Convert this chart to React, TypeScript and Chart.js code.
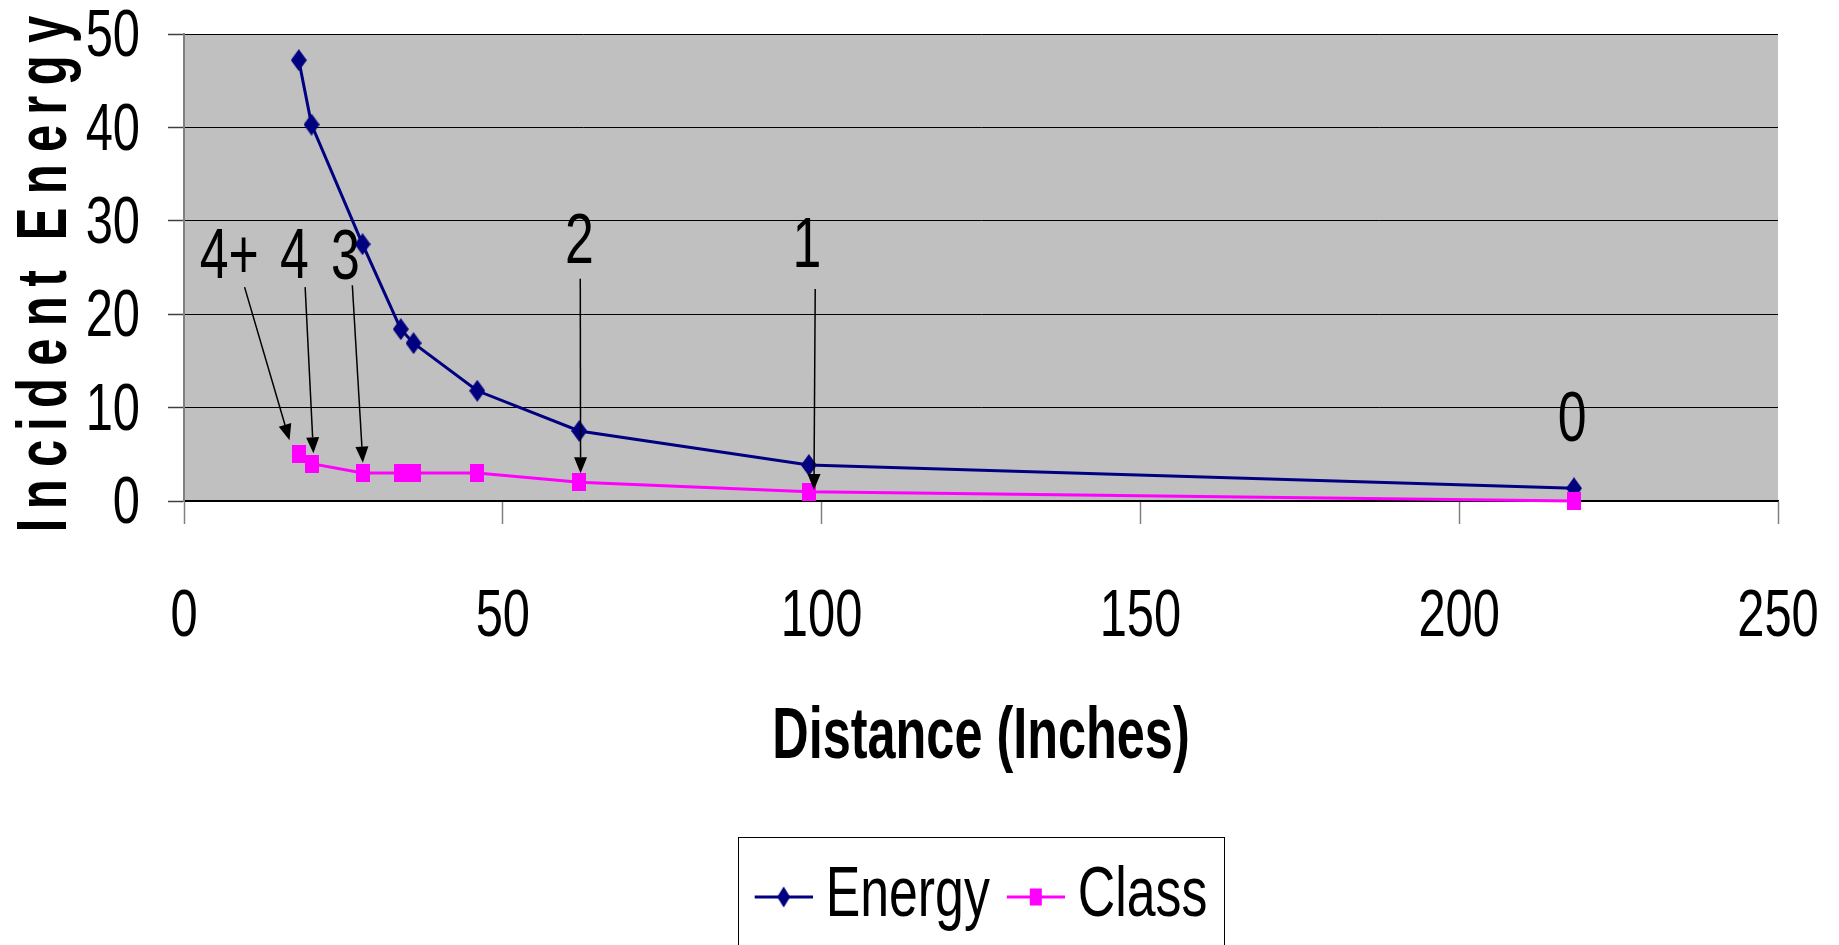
import React, { useEffect, useRef } from 'react';
import { Chart, registerables } from 'chart.js';

Chart.register(...registerables);

// ---- data ----
const distances = [18, 20, 28, 34, 36, 46, 62, 98, 218];
const energyValues = [47.2, 40.3, 27.5, 18.4, 16.9, 11.8, 7.5, 3.85, 1.36];
const classValues = [5, 4, 3, 3, 3, 3, 2, 1, 0];
const xTicks = [0, 50, 100, 150, 200, 250];
const yTicks = [0, 10, 20, 30, 40, 50];

// class annotations (data coordinates)
const classLabels = ['4+', '4', '3', '2', '1', '0'];
const labelX = [7.1, 17.3, 25.3, 62.0, 97.7, 217.7];
const labelY = [25.9, 25.9, 25.8, 27.6, 27.1, 8.5];
const arrowFromX = [9.5, 19.0, 26.4, 62.15, 99.0];
const arrowFromY = [22.9, 22.9, 23.1, 23.8, 22.7];
const arrowToX = [16.55, 20.3, 28.05, 62.2, 98.8];
const arrowToY = [6.5, 5.1, 4.1, 2.97, 1.18];

const FONT = "'Liberation Sans', Arial, sans-serif";
const SQUISH_REGULAR = 0.74;
const SQUISH_BOLD = 0.7;
const ROTATED_SHIFT = 5;
const PLOT_LEFT = 184;
const PLOT_TOP = 34;
const PLOT_BOTTOM = 501;
const NAVY = '#000080';
const MAGENTA = '#FF00FF';

function squishText(ctx: any) {
  if (ctx.__squished) return;
  ctx.__squished = true;
  const fill = ctx.fillText.bind(ctx);
  const measure = ctx.measureText.bind(ctx);
  const factor = () => (/bold|[6-9]00/.test(String(ctx.font)) ? SQUISH_BOLD : SQUISH_REGULAR);
  ctx.fillText = (text: string, x: number, y: number, maxWidth?: number) => {
    const sx = factor();
    const t = ctx.getTransform();
    if (Math.abs(t.b) > 1e-6 || Math.abs(t.c) > 1e-6) {
      // rotated text: narrow glyphs, each kept in its normal advance slot
      const align = ctx.textAlign;
      const total = measure(text).width;
      let start =
        (align === 'center' ? x - total / 2 : align === 'right' || align === 'end' ? x - total : x) -
        ROTATED_SHIFT;
      for (const ch of String(text)) {
        const adv = measure(ch).width;
        ctx.save();
        ctx.translate(start + adv / 2, y);
        ctx.scale(sx, 1);
        ctx.textAlign = 'center';
        fill(ch, 0, 0);
        ctx.restore();
        start += adv;
      }
      return;
    }
    ctx.save();
    ctx.translate(x, y);
    ctx.scale(sx, 1);
    if (maxWidth === undefined) fill(text, 0, 0);
    else fill(text, 0, 0, maxWidth / sx);
    ctx.restore();
  };
  ctx.measureText = (text: string) => {
    const sx = factor();
    const m = measure(text);
    return {
      width: m.width * sx,
      actualBoundingBoxAscent: m.actualBoundingBoxAscent,
      actualBoundingBoxDescent: m.actualBoundingBoxDescent,
      actualBoundingBoxLeft: m.actualBoundingBoxLeft * sx,
      actualBoundingBoxRight: m.actualBoundingBoxRight * sx,
      fontBoundingBoxAscent: m.fontBoundingBoxAscent,
      fontBoundingBoxDescent: m.fontBoundingBoxDescent,
    };
  };
}

function drawDiamond(g: CanvasRenderingContext2D, cx: number, cy: number, w: number, h: number, color: string) {
  g.fillStyle = color;
  g.beginPath();
  g.moveTo(cx, cy - h / 2);
  g.lineTo(cx + w / 2, cy);
  g.lineTo(cx, cy + h / 2);
  g.lineTo(cx - w / 2, cy);
  g.closePath();
  g.fill();
}

function makeDiamond(w: number, h: number, color: string) {
  const c = document.createElement('canvas');
  c.width = w;
  c.height = h;
  drawDiamond(c.getContext('2d')!, w / 2, h / 2, w, h, color);
  return c;
}

function makeSquare(w: number, h: number, color: string) {
  const c = document.createElement('canvas');
  c.width = w;
  c.height = h;
  const g = c.getContext('2d')!;
  g.fillStyle = color;
  g.fillRect(0, 0, w, h);
  return c;
}

// legend icon: line segment with marker; image centred on the legend box (width 36)
function makeLegendIcon(color: string, kind: 'diamond' | 'square') {
  const c = document.createElement('canvas');
  c.width = 80;
  c.height = 22;
  const g = c.getContext('2d')!;
  g.strokeStyle = color;
  g.lineWidth = 3;
  g.beginPath();
  g.moveTo(22, 11);
  g.lineTo(80, 11);
  g.stroke();
  if (kind === 'diamond') drawDiamond(g, 51, 11, 13, 21, color);
  else {
    g.fillStyle = color;
    g.fillRect(45, 2.5, 12, 17);
  }
  return c;
}

export default function App() {
  const ref = useRef<HTMLCanvasElement | null>(null);

  useEffect(() => {
    const canvas = ref.current!;
    const ctx = canvas.getContext('2d')!;
    squishText(ctx);

    const diamond = makeDiamond(16, 22, NAVY);
    const square = makeSquare(14, 18, MAGENTA);
    const legendIcons = [makeLegendIcon(NAVY, 'diamond'), makeLegendIcon(MAGENTA, 'square')];

    const plotBg = {
      id: 'plotBg',
      beforeDraw(chart: any) {
        const { ctx: c, chartArea: a } = chart;
        c.save();
        c.fillStyle = '#C0C0C0';
        c.fillRect(a.left, a.top, a.right - a.left, a.bottom - a.top);
        c.restore();
      },
    };

    const legendPlace = {
      id: 'legendPlace',
      afterLayout(chart: any) {
        const lg = chart.legend;
        const a = chart.chartArea;
        if (!lg) return;
        lg.left = a.left;
        lg.right = a.right;
        lg.width = a.right - a.left;
        lg.top -= 3;
        lg.bottom -= 3;
      },
      afterDraw(chart: any) {
        const lg = chart.legend;
        if (!lg || !lg.legendHitBoxes || !lg.legendHitBoxes.length) return;
        const hb = lg.legendHitBoxes;
        const first = hb[0];
        const last = hb[hb.length - 1];
        const left = Math.round(first.left - 17) + 0.5;
        const right = Math.round(last.left + last.width + 17) + 0.5;
        const top = Math.round(first.top - 25) + 0.5;
        const c = chart.ctx;
        c.save();
        c.strokeStyle = '#000';
        c.lineWidth = 1;
        c.strokeRect(left, top, right - left, 300);
        c.restore();
      },
    };

    const annotations = {
      id: 'classAnnotations',
      afterDatasetsDraw(chart: any) {
        const c = chart.ctx;
        const xs = chart.scales.x;
        const ys = chart.scales.y;
        c.save();
        c.strokeStyle = '#000';
        c.fillStyle = '#000';
        c.lineWidth = 1.5;
        for (let i = 0; i < arrowFromX.length; i++) {
          const x1 = xs.getPixelForValue(arrowFromX[i]);
          const y1 = ys.getPixelForValue(arrowFromY[i]);
          const x2 = xs.getPixelForValue(arrowToX[i]);
          const y2 = ys.getPixelForValue(arrowToY[i]);
          const dx = x2 - x1;
          const dy = y2 - y1;
          const len = Math.hypot(dx, dy);
          const ux = dx / len;
          const uy = dy / len;
          const headLen = 16;
          const headHalf = 6.5;
          const bx = x2 - ux * headLen;
          const by = y2 - uy * headLen;
          c.beginPath();
          c.moveTo(x1, y1);
          c.lineTo(bx, by);
          c.stroke();
          c.beginPath();
          c.moveTo(x2, y2);
          c.lineTo(bx - uy * headHalf, by + ux * headHalf);
          c.lineTo(bx + uy * headHalf, by - ux * headHalf);
          c.closePath();
          c.fill();
        }
        c.font = `70px ${FONT}`;
        c.textAlign = 'center';
        c.textBaseline = 'middle';
        for (let i = 0; i < classLabels.length; i++) {
          c.fillText(classLabels[i], xs.getPixelForValue(labelX[i]), ys.getPixelForValue(labelY[i]));
        }
        c.restore();
      },
    };

    const chart = new Chart(canvas, {
      type: 'line',
      data: {
        datasets: [
          {
            label: 'Energy',
            data: distances.map((x, i) => ({ x, y: energyValues[i] })),
            borderColor: NAVY,
            backgroundColor: NAVY,
            borderWidth: 3,
            pointStyle: diamond as any,
            pointRadius: 10,
            tension: 0,
            clip: false as any,
            order: 1,
          },
          {
            label: 'Class',
            data: distances.map((x, i) => ({ x, y: classValues[i] })),
            borderColor: MAGENTA,
            backgroundColor: MAGENTA,
            borderWidth: 3,
            pointStyle: square as any,
            pointRadius: 10,
            tension: 0,
            clip: false as any,
            order: 0,
          },
        ],
      },
      options: {
        animation: false,
        responsive: false,
        devicePixelRatio: 1,
        events: [],
        layout: { padding: { left: 0, top: PLOT_TOP, right: 61, bottom: 0 } },
        plugins: {
          tooltip: { enabled: false },
          legend: {
            display: true,
            position: 'bottom',
            labels: {
              usePointStyle: true,
              pointStyleWidth: 36,
              padding: 17,
              color: '#000',
              font: { family: FONT, size: 70 },
              generateLabels: (ch: any) => {
                const items = (Chart.defaults.plugins.legend.labels as any).generateLabels(ch);
                return items.map((it: any) => ({ ...it, pointStyle: legendIcons[it.datasetIndex] }));
              },
              sort: (a: any, b: any) => a.datasetIndex - b.datasetIndex,
            },
          },
        },
        scales: {
          x: {
            type: 'linear',
            min: 0,
            max: 250,
            afterBuildTicks: (s: any) => {
              s.ticks = xTicks.map((v) => ({ value: v }));
            },
            afterFit: (s: any) => {
              const lh = s.chart.legend ? s.chart.legend.height : 97;
              s.height = s.chart.height - lh - PLOT_BOTTOM;
              s.paddingLeft = 0;
              s.paddingRight = 0;
            },
            grid: {
              drawOnChartArea: false,
              drawTicks: true,
              tickLength: 23,
              tickColor: '#808080',
              tickWidth: 1.5,
            },
            border: { color: '#000', width: 1.5 },
            ticks: {
              color: '#000',
              font: { family: FONT, size: 66, lineHeight: 1 },
              padding: 61,
              maxRotation: 0,
              autoSkip: false,
            },
            title: {
              display: true,
              text: 'Distance (Inches)',
              color: '#000',
              font: { family: FONT, size: 72, weight: 'bold', lineHeight: 1 },
              padding: { top: 0, bottom: 74 },
            },
          },
          y: {
            type: 'linear',
            min: 0,
            max: 50,
            afterBuildTicks: (s: any) => {
              s.ticks = yTicks.map((v) => ({ value: v }));
            },
            afterFit: (s: any) => {
              s.width = PLOT_LEFT;
              s.paddingTop = 0;
              s.paddingBottom = 0;
            },
            grid: {
              color: '#000',
              lineWidth: 1,
              drawTicks: true,
              tickLength: 16,
              tickColor: '#404040',
              tickWidth: 1.5,
            },
            border: { color: '#808080', width: 2 },
            ticks: {
              color: '#000',
              font: { family: FONT, size: 66, lineHeight: 1 },
              padding: 28,
              labelOffset: 4,
            },
            title: {
              display: true,
              text: 'Incident Energy',
              color: '#000',
              font: { family: FONT, size: 70, weight: 'bold', lineHeight: 1.2 },
              padding: { top: 5, bottom: 0 },
            },
          },
        },
      } as any,
      plugins: [plotBg, legendPlace, annotations],
    });

    return () => {
      chart.destroy();
    };
  }, []);

  return (
    <div
      style={{
        position: 'fixed',
        left: 0,
        top: 0,
        width: 1839,
        height: 945,
        overflow: 'hidden',
        background: '#fff',
      }}
    >
      <canvas ref={ref} width={1839} height={945} style={{ display: 'block' }} />
    </div>
  );
}
